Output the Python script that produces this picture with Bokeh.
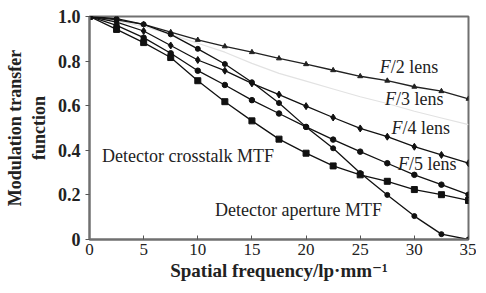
from bokeh.plotting import figure
from bokeh.models import FixedTicker, Label
from bokeh.embed import file_html
from bokeh.resources import INLINE

freq = [0, 2.5, 5, 7.5, 10, 12.5, 15, 17.5, 20, 22.5, 25, 27.5, 30, 32.5, 35]
f2_lens = [1.0, 0.985, 0.965, 0.93, 0.895, 0.866, 0.840, 0.812, 0.786, 0.759, 0.732, 0.712, 0.685, 0.665, 0.631]
f3_lens = [1.0, 0.98, 0.955, 0.92, 0.88, 0.84, 0.79, 0.745, 0.71, 0.675, 0.64, 0.61, 0.575, 0.545, 0.515]
f4_lens = [1.0, 0.975, 0.935, 0.87, 0.805, 0.757, 0.700, 0.650, 0.598, 0.547, 0.498, 0.461, 0.416, 0.379, 0.342]
f5_lens = [1.0, 0.96, 0.905, 0.835, 0.757, 0.693, 0.625, 0.565, 0.505, 0.448, 0.394, 0.342, 0.29, 0.246, 0.201]
aperture = [1.0, 0.99, 0.965, 0.92, 0.855, 0.787, 0.705, 0.612, 0.505, 0.409, 0.298, 0.200, 0.105, 0.024, 0.0]
crosstalk = [1.0, 0.942, 0.883, 0.816, 0.712, 0.618, 0.532, 0.45, 0.387, 0.33, 0.29, 0.261, 0.224, 0.201, 0.175]

x_ticks = [0, 5, 10, 15, 20, 25, 30, 35]
y_ticks = [0, 0.2, 0.4, 0.6, 0.8, 1.0]
y_tick_labels = {0: "0", 0.2: "0.2", 0.4: "0.4", 0.6: "0.6", 0.8: "0.8", 1.0: "1.0"}

FONT = "'Liberation Serif', 'Times New Roman', 'DejaVu Serif', serif"

p = figure(width=476, height=283, x_range=(0, 35), y_range=(0, 1.0),
           output_backend="svg", toolbar_location=None,
           min_border_left=89, min_border_right=8, min_border_top=16, min_border_bottom=42)
p.background_fill_color = "white"
p.border_fill_color = "white"
p.xgrid.visible = False
p.ygrid.visible = False
p.outline_line_color = "#707070"
p.outline_line_width = 2

for ax in (p.xaxis[0], p.yaxis[0]):
    ax.axis_line_color = "#707070"
    ax.axis_line_width = 2
    ax.major_tick_line_color = "#555555"
    ax.minor_tick_line_color = None
    ax.major_label_text_font = FONT
    ax.axis_label_text_font = FONT
    ax.axis_label_text_font_style = "bold"
    ax.axis_label_text_color = "#222222"
    ax.major_label_text_color = "#222222"

p.xaxis.ticker = FixedTicker(ticks=x_ticks)
p.xaxis.major_tick_in = 4
p.xaxis.major_tick_out = 0
p.xaxis.major_label_text_font_size = "17px"
p.xaxis.major_label_standoff = 4
p.xaxis.axis_label = "Spatial frequency/lp·mm⁻¹"
p.xaxis.axis_label_text_font_size = "19px"
p.xaxis.axis_label_standoff = 2

p.yaxis.ticker = FixedTicker(ticks=y_ticks)
p.yaxis.major_label_overrides = y_tick_labels
p.yaxis.major_tick_in = 0
p.yaxis.major_tick_out = 4
p.yaxis.major_label_text_font_size = "18px"
p.yaxis.major_label_text_font_style = "bold"
p.yaxis.axis_label = "Modulation transfer\nfunction"
p.yaxis.axis_label_text_font_size = "18px"
p.yaxis.axis_label_standoff = 6

lw = 1.3
p.line(freq, f3_lens, line_color="#e2e2e2", line_width=1.2)

p.line(freq, f2_lens, line_color="#222222", line_width=lw)
p.scatter(freq, f2_lens, marker="triangle", size=5, color="#222222")

p.line(freq, f4_lens, line_color="#111111", line_width=lw)
p.scatter(freq, f4_lens, marker="diamond", size=7, color="#111111")

p.line(freq, f5_lens, line_color="#111111", line_width=lw)
p.scatter(freq, f5_lens, marker="circle", size=5.5, color="#111111")

p.line(freq, aperture, line_color="#111111", line_width=lw)
p.scatter(freq, aperture, marker="circle", size=5, color="#111111")

p.line(freq, crosstalk, line_color="#111111", line_width=lw)
p.scatter(freq, crosstalk, marker="square", size=6, color="#111111")

TS = "18px"

def lens_label(x, y, num):
    p.add_layout(Label(x=x, y=y, text="F", text_font=FONT, text_font_style="italic",
                       text_font_size=TS, text_baseline="middle", text_color="#222222"))
    p.add_layout(Label(x=x, y=y, x_offset=11, text="/" + num + " lens", text_font=FONT,
                       text_font_size=TS, text_baseline="middle", text_color="#222222"))

lens_label(26.8, 0.773, "2")
lens_label(27.3, 0.631, "3")
lens_label(27.9, 0.498, "4")
lens_label(28.5, 0.338, "5")

p.add_layout(Label(x=1.15, y=0.373, text="Detector crosstalk MTF", text_font=FONT,
                   text_font_size=TS, text_baseline="middle", text_color="#222222"))
p.add_layout(Label(x=11.6, y=0.133, text="Detector aperture MTF", text_font=FONT,
                   text_font_size=TS, text_baseline="middle", text_color="#222222"))

open("out.html", "w").write(file_html(p, INLINE))
